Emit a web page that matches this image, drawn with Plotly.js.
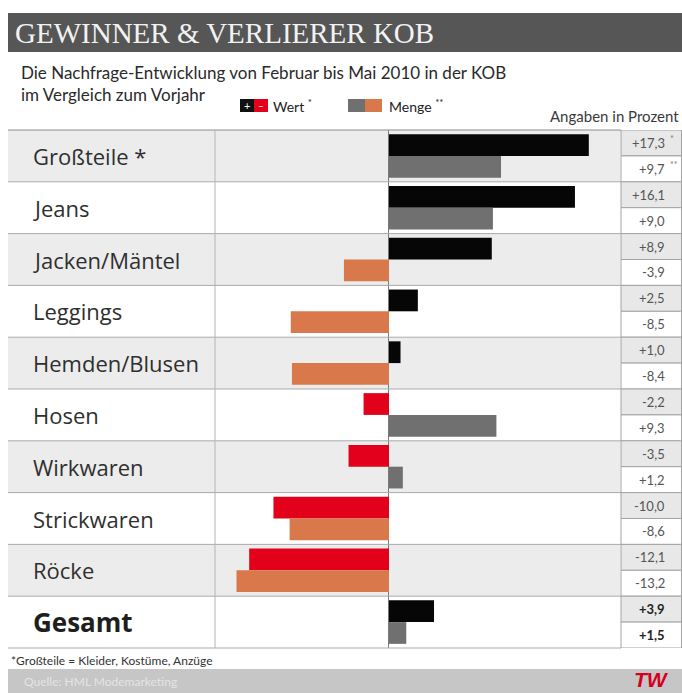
<!DOCTYPE html>
<html><head><meta charset="utf-8">
<script src="https://cdn.plot.ly/plotly-3.0.1.min.js"></script>
<style>html,body{margin:0;padding:0;background:#fff;}#chart{width:682px;height:693px;}</style>
</head><body><div id="chart"></div>
<script>
// ---- data ----
const categories = ["Großteile *","Jeans","Jacken/Mäntel","Leggings","Hemden/Blusen","Hosen","Wirkwaren","Strickwaren","Röcke","Gesamt"];
const wert  = [17.3, 16.1, 8.9, 2.5, 1.0, -2.2, -3.5, -10.0, -12.1, 3.9];
const menge = [9.7, 9.0, -3.9, -8.5, -8.4, 9.3, 1.2, -8.6, -13.2, 1.5];
const wertMarks  = ["*","","","","","","","","",""];
const mengeMarks = ["**","","","","","","","","",""];
const titleText = "GEWINNER & VERLIERER KOB";
const subtitleLines = ["Die Nachfrage-Entwicklung von Februar bis Mai 2010 in der KOB", "im Vergleich zum Vorjahr"];
const unitText = "Angaben in Prozent";
const legendWert = "Wert <sup>*</sup>";
const legendMenge = "Menge <sup>**</sup>";
const footnote = "*Großteile = Kleider, Kostüme, Anzüge";
const source = "Quelle: HML Modemarketing";

// ---- geometry helpers (pixel -> paper) ----
const W = 682, H = 693, L = 215, R = 620, T = 130, B = 648;
const px = x => (x - L) / (R - L);
const py = y => (B - y) / (B - T);
const n = categories.length;

const cWertPos = '#060606', cWertNeg = '#e2001a', cMengePos = '#707070', cMengeNeg = '#d9784b';
const fmt = v => (v > 0 ? '+' : (v < 0 ? '-' : '')) + Math.abs(v).toFixed(1).replace('.', ',');

const traces = [
  {type:'bar', orientation:'h', name:'Wert', y:categories, x:wert,
   marker:{color: wert.map(v => v >= 0 ? cWertPos : cWertNeg), line:{width:0}},
   hoverinfo:'x+y', showlegend:false},
  {type:'bar', orientation:'h', name:'Menge', y:categories, x:menge,
   marker:{color: menge.map(v => v >= 0 ? cMengePos : cMengeNeg), line:{width:0}},
   hoverinfo:'x+y', showlegend:false}
];

const shapes = [];
const annotations = [];

// header band
shapes.push({type:'rect', xref:'paper', yref:'paper', x0:px(8), x1:px(682), y0:py(52), y1:py(13), fillcolor:'#565656', line:{width:0}, layer:'below'});
// row stripes
categories.forEach((c, i) => {
  if (i % 2 === 0) shapes.push({type:'rect', xref:'paper', yref:'y', x0:px(8), x1:1, y0:i-0.5, y1:i+0.5, fillcolor:'#ececec', line:{width:0}, layer:'below'});
});
// row lines
for (let i = 0; i <= n; i++) {
  shapes.push({type:'line', xref:'paper', yref:'paper', x0:px(8), x1:px(621), y0:1 - i/n, y1:1 - i/n, line:{color: i === 0 ? '#8c8c8c' : '#ababab', width:1}});
}
// label divider
shapes.push({type:'line', xref:'paper', yref:'paper', x0:0, x1:0, y0:0, y1:1, line:{color:'#b4b4b4', width:1}});
// value cells
categories.forEach((c, i) => {
  shapes.push({type:'rect', xref:'paper', yref:'y', x0:px(621), x1:px(681.5), y0:i-0.5, y1:i, fillcolor:'#e8e8e8', line:{color:'#a3a3a3', width:1}});
  shapes.push({type:'rect', xref:'paper', yref:'y', x0:px(621), x1:px(681.5), y0:i, y1:i+0.5, fillcolor:'#ffffff', line:{color:'#a3a3a3', width:1}});
});
// legend swatches
shapes.push({type:'rect', xref:'paper', yref:'paper', x0:px(240), x1:px(254), y0:py(112), y1:py(99), fillcolor:'#111', line:{width:0}});
shapes.push({type:'rect', xref:'paper', yref:'paper', x0:px(254), x1:px(268), y0:py(112), y1:py(99), fillcolor:cWertNeg, line:{width:0}});
shapes.push({type:'rect', xref:'paper', yref:'paper', x0:px(348), x1:px(365), y0:py(112), y1:py(99), fillcolor:cMengePos, line:{width:0}});
shapes.push({type:'rect', xref:'paper', yref:'paper', x0:px(365), x1:px(382), y0:py(112), y1:py(99), fillcolor:cMengeNeg, line:{width:0}});
// footer band
shapes.push({type:'rect', xref:'paper', yref:'paper', x0:px(8), x1:px(682), y0:py(693), y1:py(669), fillcolor:'#c6c6c6', line:{width:0}});

const ann = (text, x, y, opts) => Object.assign({text, x:px(x), y:py(y), xref:'paper', yref:'paper', showarrow:false, xanchor:'left', yanchor:'middle'}, opts || {});

annotations.push(ann(titleText, 13, 33, {font:{family:'Liberation Serif', size:29, color:'#f2f2f2'}}));
annotations.push(ann(subtitleLines.join('<br>'), 19, 84, {align:'left', font:{family:'Lato', size:17, color:'#2a2a2a'}}));
annotations.push(ann(unitText, 681, 116, {xanchor:'right', font:{family:'Lato', size:15, color:'#3a3a3a'}}));
annotations.push(ann('+', 247, 105.5, {xanchor:'center', font:{family:'Lato', size:11, color:'#fff'}}));
annotations.push(ann('–', 261, 105.5, {xanchor:'center', font:{family:'Lato', size:10, color:'#fff'}}));
annotations.push(ann(legendWert, 271, 105.5, {font:{family:'Lato', size:14, color:'#222'}}));
annotations.push(ann(legendMenge, 387, 105.5, {font:{family:'Lato', size:14, color:'#222'}}));
annotations.push(ann(footnote, 9, 660, {font:{family:'Lato', size:12, color:'#333'}}));
annotations.push(ann(source, 22, 681, {font:{family:'Lato', size:12, color:'#e4e4e4'}}));
annotations.push(ann('<b><i>TW</i></b>', 670, 679, {xanchor:'right', borderpad:0, font:{family:'Liberation Sans', size:21, color:'#d4001f'}}));

// row labels and values
categories.forEach((c, i) => {
  const last = i === n - 1;
  annotations.push({text: last ? '<b>' + c + '</b>' : c, xref:'paper', yref:'y', x:px(31), y:i, xanchor:'left', yanchor:'middle', showarrow:false,
    font:{family:'Open Sans', size: last ? 26 : 22, color: last ? '#1e1e1e' : '#2f2f2f'}});
  const vf = {family:'Lato', size:13, color: last ? '#222' : '#555'};
  annotations.push({text: last ? '<b>' + fmt(wert[i]) + '</b>' : fmt(wert[i]), xref:'paper', yref:'y', x:px(667), y:i-0.25, xanchor:'right', yanchor:'middle', showarrow:false, font:vf});
  annotations.push({text: last ? '<b>' + fmt(menge[i]) + '</b>' : fmt(menge[i]), xref:'paper', yref:'y', x:px(667), y:i+0.25, xanchor:'right', yanchor:'middle', showarrow:false, font:vf});
  if (wertMarks[i]) annotations.push({text: wertMarks[i], xref:'paper', yref:'y', x:px(668), y:i-0.33, xanchor:'left', yanchor:'middle', showarrow:false, font:{family:'Lato', size:9, color:'#777'}});
  if (mengeMarks[i]) annotations.push({text: mengeMarks[i], xref:'paper', yref:'y', x:px(668), y:i+0.17, xanchor:'left', yanchor:'middle', showarrow:false, font:{family:'Lato', size:9, color:'#777'}});
});

const layout = {
  width: W, height: H,
  margin: {l: L, r: W - R, t: T, b: H - B, pad: 0},
  paper_bgcolor: '#ffffff', plot_bgcolor: 'rgba(0,0,0,0)',
  barmode: 'group', bargap: 0.16, bargroupgap: 0,
  xaxis: {range: [-15.06, 20.0], showgrid: false, zeroline: true, zerolinecolor: '#7a7a7a', zerolinewidth: 1, showticklabels: false, ticks: '', fixedrange: true},
  yaxis: {type: 'category', range: [n - 0.5, -0.5], showgrid: false, zeroline: false, showticklabels: false, ticks: '', fixedrange: true},
  shapes, annotations,
  showlegend: false
};

Plotly.newPlot('chart', traces, layout, {displayModeBar: false, staticPlot: true});
</script>
</body></html>
